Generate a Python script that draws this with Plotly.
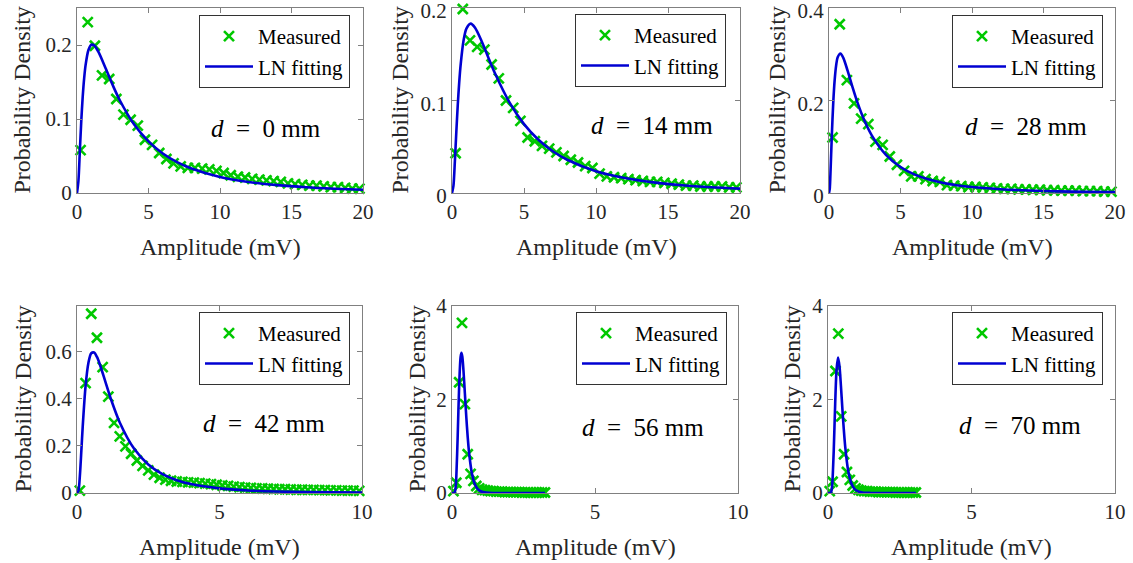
import plotly.graph_objects as go

# ---------------- data ----------------
amp_top = [0.25, 0.75, 1.25, 1.75, 2.25, 2.75, 3.25, 3.75, 4.25, 4.75,
           5.25, 5.75, 6.25, 6.75, 7.25, 7.75, 8.25, 8.75, 9.25, 9.75,
           10.25, 10.75, 11.25, 11.75, 12.25, 12.75, 13.25, 13.75, 14.25, 14.75,
           15.25, 15.75, 16.25, 16.75, 17.25, 17.75, 18.25, 18.75, 19.25, 19.75]

meas_d0 = [0.058, 0.231, 0.199, 0.159, 0.154, 0.127, 0.106, 0.099, 0.091, 0.072,
           0.065, 0.054, 0.046, 0.040, 0.036, 0.034, 0.034, 0.033, 0.032, 0.030,
           0.027, 0.024, 0.022, 0.021, 0.019, 0.018, 0.017, 0.016, 0.015, 0.013,
           0.012, 0.011, 0.010, 0.010, 0.009, 0.008, 0.008, 0.007, 0.006, 0.006]
meas_d14 = [0.043, 0.199, 0.165, 0.158, 0.155, 0.139, 0.124, 0.100, 0.092, 0.078,
            0.060, 0.056, 0.051, 0.048, 0.044, 0.040, 0.036, 0.033, 0.029, 0.027,
            0.021, 0.018, 0.017, 0.016, 0.015, 0.014, 0.013, 0.012, 0.012, 0.011,
            0.010, 0.009, 0.008, 0.008, 0.007, 0.007, 0.007, 0.007, 0.006, 0.006]
meas_d28 = [0.120, 0.365, 0.244, 0.194, 0.161, 0.149, 0.111, 0.104, 0.079, 0.061,
            0.048, 0.036, 0.036, 0.030, 0.026, 0.024, 0.017, 0.016, 0.015, 0.013,
            0.013, 0.012, 0.011, 0.010, 0.009, 0.009, 0.008, 0.008, 0.007, 0.007,
            0.006, 0.006, 0.005, 0.005, 0.005, 0.004, 0.004, 0.004, 0.003, 0.003]

amp_d42 = [0.1, 0.3, 0.5, 0.7, 0.9, 1.1, 1.3, 1.5, 1.7, 1.9,
           2.1, 2.3, 2.5, 2.7, 2.9, 3.1, 3.3, 3.5, 3.7, 3.9,
           4.1, 4.3, 4.5, 4.7, 4.9, 5.1, 5.3, 5.5, 5.7, 5.9,
           6.1, 6.3, 6.5, 6.7, 6.9, 7.1, 7.3, 7.5, 7.7, 7.9,
           8.1, 8.3, 8.5, 8.7, 8.9, 9.1, 9.3, 9.5, 9.7, 9.9]
meas_d42 = [0.010, 0.467, 0.762, 0.660, 0.535, 0.410, 0.298, 0.241, 0.198, 0.167,
            0.138, 0.115, 0.096, 0.078, 0.065, 0.057, 0.052, 0.049, 0.047, 0.045,
            0.044, 0.042, 0.040, 0.038, 0.035, 0.032, 0.030, 0.027, 0.025, 0.023,
            0.022, 0.020, 0.019, 0.018, 0.017, 0.016, 0.016, 0.015, 0.014, 0.014,
            0.013, 0.013, 0.012, 0.012, 0.011, 0.011, 0.010, 0.010, 0.010, 0.009]

amp_d56 = [0.05, 0.15, 0.25, 0.35, 0.45, 0.55, 0.65, 0.75, 0.85, 0.95,
           1.05, 1.15, 1.25, 1.35, 1.45, 1.55, 1.65, 1.75, 1.85, 1.95,
           2.05, 2.15, 2.25, 2.35, 2.45, 2.55, 2.65, 2.75, 2.85, 2.95,
           3.05, 3.15, 3.25]
meas_d56 = [0.04, 0.22, 2.37, 3.64, 1.90, 0.83, 0.41, 0.26, 0.15, 0.10,
            0.07, 0.06, 0.05, 0.04, 0.04, 0.03, 0.03, 0.03, 0.02, 0.02,
            0.02, 0.02, 0.02, 0.02, 0.01, 0.01, 0.01, 0.01, 0.01, 0.01,
            0.01, 0.01, 0.01]

amp_d70 = [0.06, 0.16, 0.26, 0.36, 0.46, 0.56, 0.66, 0.76, 0.86, 0.96,
           1.06, 1.16, 1.26, 1.36, 1.46, 1.56, 1.66, 1.76, 1.86, 1.96,
           2.06, 2.16, 2.26, 2.36, 2.46, 2.56, 2.66, 2.76, 2.86, 2.96, 3.06]
meas_d70 = [0.04, 0.24, 2.61, 3.41, 1.64, 0.83, 0.45, 0.28, 0.16, 0.10,
            0.07, 0.05, 0.04, 0.04, 0.03, 0.03, 0.03, 0.02, 0.02, 0.02,
            0.02, 0.02, 0.02, 0.01, 0.01, 0.01, 0.01, 0.01, 0.01, 0.01, 0.01]

# LN fitting curves
fit_x_d0 = [0, 0.1, 0.2, 0.3, 0.4, 0.5, 0.6, 0.8, 1.0, 1.2, 1.5, 2, 2.5, 3, 4, 5, 6, 7, 8, 10, 12, 14, 16, 18, 20]
fit_y_d0 = [0, 0.0164, 0.0574, 0.0976, 0.1304, 0.155, 0.1728, 0.1932, 0.2003, 0.1994, 0.1906, 0.1685,
            0.1456, 0.125, 0.0925, 0.0697, 0.0534, 0.0417, 0.0331, 0.0217, 0.0149, 0.0106, 0.0077, 0.0058, 0.0044]
fit_x_d14 = [0, 0.1, 0.2, 0.3, 0.4, 0.5, 0.6, 0.8, 1.0, 1.3, 1.6, 2, 2.5, 3, 4, 5, 6, 7, 8, 10, 12, 14, 16, 18, 20]
fit_y_d14 = [0, 0.0078, 0.0345, 0.066, 0.0951, 0.1194, 0.1386, 0.1646, 0.1778, 0.1831, 0.1787, 0.1662,
             0.1474, 0.1289, 0.0977, 0.0745, 0.0576, 0.0452, 0.0360, 0.0236, 0.0162, 0.0115, 0.0083, 0.0062, 0.0047]
fit_x_d28 = [0, 0.05, 0.1, 0.2, 0.3, 0.4, 0.5, 0.6, 0.8, 1.0, 1.3, 1.6, 2, 2.5, 3, 4, 5, 6, 7, 8, 10, 12, 14, 16, 18, 20]
fit_y_d28 = [0, 0.0083, 0.0407, 0.1264, 0.197, 0.2458, 0.2761, 0.293, 0.3018, 0.2922, 0.2646, 0.2335, 0.1949,
             0.155, 0.1241, 0.0819, 0.0562, 0.0398, 0.029, 0.0217, 0.0128, 0.0081, 0.0053, 0.0036, 0.0026, 0.0018]
fit_x_d42 = [0, 0.05, 0.1, 0.15, 0.2, 0.3, 0.4, 0.5, 0.6, 0.7, 0.8, 1.0, 1.2, 1.5, 2, 2.5, 3, 3.5, 4, 5, 6, 7, 8, 10]
fit_y_d42 = [0, 0.0093, 0.072, 0.1736, 0.2814, 0.4537, 0.553, 0.594, 0.5973, 0.5784, 0.5475, 0.4716, 0.396,
             0.300, 0.1887, 0.1214, 0.0803, 0.0546, 0.038, 0.0196, 0.0108, 0.0063, 0.0039, 0.0016]
fit_x_d56 = [0, 0.05, 0.1, 0.125, 0.15, 0.2, 0.25, 0.3, 0.33, 0.36, 0.4, 0.45, 0.5, 0.55, 0.6, 0.7, 0.8, 0.9,
             1.0, 1.2, 1.5, 2.0, 2.5, 3.25]
fit_y_d56 = [0, 0.0, 0.0191, 0.106, 0.332, 1.237, 2.286, 2.906, 3.0, 2.921, 2.631, 2.134, 1.627, 1.19, 0.845,
             0.404, 0.1856, 0.0845, 0.0383, 0.0081, 0.0009, 0, 0, 0]
fit_x_d70 = [0, 0.05, 0.1, 0.125, 0.15, 0.2, 0.25, 0.3, 0.35, 0.4, 0.45, 0.5, 0.55, 0.6, 0.7, 0.8, 0.9,
             1.0, 1.2, 1.5, 2.0, 2.5, 3.06]
fit_y_d70 = [0, 0.0, 0.0087, 0.057, 0.204, 0.910, 1.906, 2.655, 2.899, 2.714, 2.295, 1.810, 1.361, 0.989,
             0.490, 0.231, 0.1068, 0.0491, 0.0105, 0.0011, 0, 0, 0]

labels = ["<i>d</i>\u2002=\u20020 mm", "<i>d</i>\u2002=\u200214 mm", "<i>d</i>\u2002=\u200228 mm",
          "<i>d</i>\u2002=\u200242 mm", "<i>d</i>\u2002=\u200256 mm", "<i>d</i>\u2002=\u200270 mm"]
x_ticks_top = [0, 5, 10, 15, 20]
x_ticks_bot = [0, 5, 10]
y_ticks = [[0, 0.1, 0.2], [0, 0.1, 0.2], [0, 0.2, 0.4], [0, 0.2, 0.4, 0.6], [0, 2, 4], [0, 2, 4]]
y_ranges = [[0, 0.25], [0, 0.20005], [0, 0.4001], [0, 0.795], [0, 4.001], [0, 4.001]]

meas_x = [amp_top, amp_top, amp_top, amp_d42, amp_d56, amp_d70]
meas_y = [meas_d0, meas_d14, meas_d28, meas_d42, meas_d56, meas_d70]
fit_x = [fit_x_d0, fit_x_d14, fit_x_d28, fit_x_d42, fit_x_d56, fit_x_d70]
fit_y = [fit_y_d0, fit_y_d14, fit_y_d28, fit_y_d42, fit_y_d56, fit_y_d70]

# ---------------- layout geometry (pixels) ----------------
W, H = 1133, 563
FONT = "'Liberation Serif', Tinos, 'Times New Roman', 'Nimbus Roman', 'DejaVu Serif', serif"
GREEN = "#00c800"
BLUE = "#0000d2"
AXC = "#808080"
TXT = "#262626"

px_x = [(77, 363), (452, 740), (829, 1115), (77, 362), (452, 738), (828, 1115)]
px_y = [(8, 193), (8, 193), (8, 193), (306, 493), (306, 493), (306, 493)]
legend_px = [(350, 15), (726, 14), (1103, 15), (350, 312), (727, 312), (1103, 312)]
label_px = [(266, 128), (652, 125), (1026, 127), (264, 423), (643, 427), (1020, 425)]
ytitle_px = [22, 400, 777, 22, 416, 791]
ylabel_shift = [0, 3, 3, 0, 0, 0]

fig = go.Figure()
layout = dict(width=W, height=H, margin=dict(l=0, r=0, t=0, b=0),
              paper_bgcolor="white", plot_bgcolor="white",
              font=dict(family=FONT, color=TXT), showlegend=True)
annotations = []

for k in range(6):
    n = "" if k == 0 else str(k + 1)
    leg = "legend" + n
    fig.add_trace(go.Scatter(x=meas_x[k], y=meas_y[k], mode="markers", name="Measured",
                             xaxis="x" + n, yaxis="y" + n, legend=leg, cliponaxis=False,
                             marker=dict(symbol="x-thin", size=10, color=GREEN,
                                         line=dict(width=2.6, color=GREEN))))
    fig.add_trace(go.Scatter(x=fit_x[k], y=fit_y[k], mode="lines", name="LN fitting",
                             xaxis="x" + n, yaxis="y" + n, legend=leg,
                             line=dict(color=BLUE, width=2.6, shape="spline", smoothing=0.8)))
    x0, x1 = px_x[k]
    y0, y1 = px_y[k]
    common = dict(showline=True, linecolor=AXC, linewidth=1, mirror="ticks",
                  ticks="inside", ticklen=5, tickcolor=AXC, tickwidth=1,
                  showgrid=False, zeroline=False, automargin=False,
                  ticklabeloverflow="allow",
                  tickfont=dict(family=FONT, size=21, color=TXT))
    layout["xaxis" + n] = dict(domain=[x0 / W, x1 / W], anchor="y" + n,
                               range=[0, 20] if k < 3 else [0, 10],
                               tickvals=x_ticks_top if k < 3 else x_ticks_bot, **common)
    layout["yaxis" + n] = dict(domain=[1 - y1 / H, 1 - y0 / H], anchor="x" + n,
                               range=y_ranges[k], tickvals=y_ticks[k],
                               ticklabelshift=ylabel_shift[k], **common)
    lx, ly = legend_px[k]
    layout[leg] = dict(x=lx / W, y=1 - ly / H, xanchor="right", yanchor="top",
                       bgcolor="white", bordercolor="#333333", borderwidth=1,
                       font=dict(family=FONT, size=21, color="black"),
                       itemwidth=48, tracegroupgap=0)
    tx, ty = label_px[k]
    annotations.append(dict(x=tx / W, y=1 - ty / H, xref="paper", yref="paper",
                            text=labels[k], showarrow=False, xanchor="center", yanchor="middle",
                            font=dict(family=FONT, size=25, color="black")))
    annotations.append(dict(x=(x0 + x1) / 2 / W, y=1 - (y1 + 54) / H, xref="paper", yref="paper",
                            text="Amplitude (mV)", showarrow=False, xanchor="center", yanchor="middle",
                            font=dict(family=FONT, size=24, color=TXT)))
    annotations.append(dict(x=ytitle_px[k] / W, y=1 - (y0 + y1) / 2 / H, xref="paper", yref="paper",
                            text="Probability Density", showarrow=False, textangle=-90,
                            xanchor="center", yanchor="middle",
                            font=dict(family=FONT, size=24, color=TXT)))

layout["annotations"] = annotations
fig.update_layout(**layout)
fig.write_html("out.html", config={"displayModeBar": False},
               post_script="document.body.style.margin='0';")
